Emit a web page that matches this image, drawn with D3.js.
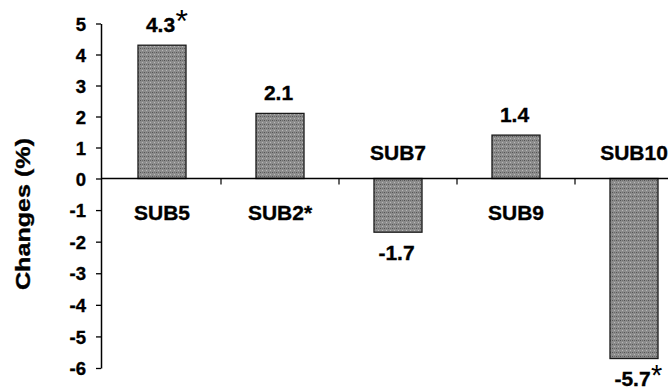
<!DOCTYPE html>
<html>
<head>
<meta charset="utf-8">
<script src="https://cdn.jsdelivr.net/npm/d3@7"></script>
<style>
  html, body { margin: 0; padding: 0; background: #fff; }
  svg { display: block; }
  text { font-family: Arial, "Liberation Sans", sans-serif; fill: #000; }
  text.heavy { stroke: #000; stroke-width: 0.35px; }
</style>
</head>
<body>
<svg id="chart" width="668" height="392"></svg>
<script>
// ---- data ----
const categories = ["SUB5", "SUB2*", "SUB7", "SUB9", "SUB10"];
const values = [4.3, 2.1, -1.7, 1.4, -5.7];
const valueLabels = ["4.3", "2.1", "-1.7", "1.4", "-5.7"];
const valueMarks = ["*", "", "", "", "*"];
const yTicks = [5, 4, 3, 2, 1, 0, -1, -2, -3, -4, -5, -6];
const yTitle = "Changes (%)";

// ---- layout ----
const svg = d3.select("#chart");
const W = 668;
const axisX = 101;

const x = d3.scaleBand()
  .domain(categories)
  .range([103, 693])
  .paddingInner(0.593)
  .paddingOuter(0.2965);

const y = d3.scaleLinear()
  .domain([-6, 0, 5])
  .range([368, 178.5, 23.5]);

const y0 = y(0);

// bar texture
const defs = svg.append("defs");
const pat = defs.append("pattern")
  .attr("id", "dots")
  .attr("patternUnits", "userSpaceOnUse")
  .attr("width", 4).attr("height", 4);
pat.append("rect").attr("width", 4).attr("height", 4).attr("fill", "#8c8c8c");
pat.append("rect").attr("x", 0).attr("y", 0).attr("width", 1).attr("height", 1).attr("fill", "#555");
pat.append("rect").attr("x", 2).attr("y", 2).attr("width", 1).attr("height", 1).attr("fill", "#b8b8b8");
pat.append("rect").attr("x", 2).attr("y", 0).attr("width", 1).attr("height", 1).attr("fill", "#6c6c6c");

// bars
svg.append("g").selectAll("rect")
  .data(categories)
  .join("rect")
  .attr("x", d => x(d))
  .attr("width", x.bandwidth())
  .attr("y", (d, i) => Math.min(y(values[i]), y0))
  .attr("height", (d, i) => Math.abs(y(values[i]) - y0))
  .attr("fill", "url(#dots)")
  .attr("stroke", "#1a1a1a")
  .attr("stroke-width", 1.3);

// zero line
svg.append("line")
  .attr("x1", axisX).attr("x2", W)
  .attr("y1", y0).attr("y2", y0)
  .attr("stroke", "#000").attr("stroke-width", 1.5);

// category boundary ticks
svg.append("g").selectAll("line")
  .data(categories.slice(0, categories.length - 1))
  .join("line")
  .attr("x1", d => x(d) + x.bandwidth() / 2 + x.step() / 2)
  .attr("x2", d => x(d) + x.bandwidth() / 2 + x.step() / 2)
  .attr("y1", y0).attr("y2", y0 + 6)
  .attr("stroke", "#000").attr("stroke-width", 1.2);

// y axis
const yAxis = svg.append("g")
  .attr("transform", `translate(${axisX},0)`)
  .call(d3.axisLeft(y).tickValues(yTicks).tickFormat(d => String(d)).tickSize(5).tickSizeOuter(0).tickPadding(10));
yAxis.select(".domain").attr("stroke", "#000").attr("stroke-width", 1.5);
yAxis.selectAll(".tick line").attr("stroke", "#000").attr("stroke-width", 1.3);
yAxis.selectAll(".tick text")
  .attr("class", "heavy")
  .style("font-family", 'Arial, "Liberation Sans", sans-serif')
  .attr("font-size", 18.5)
  .attr("font-weight", "bold")
  .attr("fill", "#000")
  .attr("dy", "0.36em");

// y title
svg.append("text")
  .attr("class", "heavy")
  .attr("transform", "translate(30,214) rotate(-90)")
  .attr("text-anchor", "middle")
  .attr("font-size", 20)
  .attr("font-weight", "bold")
  .attr("textLength", 152)
  .attr("lengthAdjust", "spacingAndGlyphs")
  .text(yTitle);

// category labels
svg.append("g").selectAll("text")
  .data(categories)
  .join("text")
  .attr("class", "heavy")
  .attr("x", d => x(d) + x.bandwidth() / 2)
  .attr("y", (d, i) => values[i] >= 0 ? y0 + 41 : y0 - 19)
  .attr("text-anchor", "middle")
  .attr("font-size", 21)
  .attr("font-weight", "bold")
  .text(d => d);

// value labels
const vl = svg.append("g").selectAll("text")
  .data(categories)
  .join("text")
  .attr("class", "heavy")
  .attr("x", d => x(d) + x.bandwidth() / 2 - 1.5)
  .attr("y", (d, i) => values[i] >= 0 ? y(values[i]) - 13.5 : y(values[i]) + 27.5)
  .attr("text-anchor", "middle")
  .attr("font-size", 21)
  .attr("font-weight", "bold")
  .text((d, i) => valueLabels[i]);

// significance marks
vl.each(function (d, i) {
  if (!valueMarks[i]) return;
  const t = d3.select(this);
  const w = this.getComputedTextLength();
  svg.append("text")
    .attr("x", +t.attr("x") + w / 2 + 0.5)
    .attr("y", +t.attr("y") + (values[i] >= 0 ? 0 : -1))
    .attr("font-size", values[i] >= 0 ? 32 : 29)
    .attr("font-weight", "normal")
    .text(valueMarks[i]);
});
</script>
</body>
</html>
